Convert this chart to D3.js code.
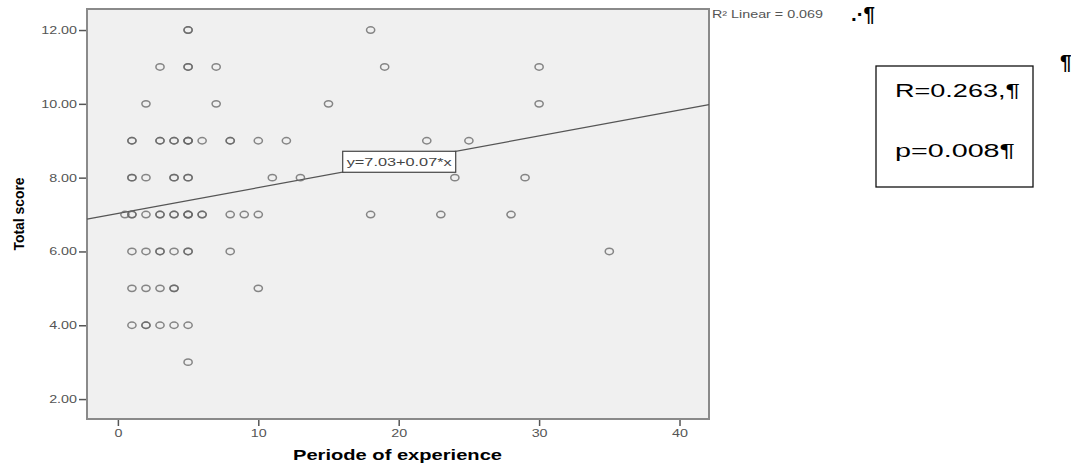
<!DOCTYPE html>
<html>
<head>
<meta charset="utf-8">
<script src="https://cdn.jsdelivr.net/npm/d3@7"></script>
<style>
  body { margin: 0; background: #fff; }
  svg text { font-family: "Liberation Sans", Arial, sans-serif; }
</style>
</head>
<body>
<div id="chart"></div>
<script>
// Period of experience (x) for each total score level (y).
// Repeated values = overlapping cases (drawn darker).
const score12 = [5, 5, 18];
const score11 = [3, 5, 5, 7, 19, 30];
const score10 = [2, 7, 15, 30];
const score9 = [1, 1, 3, 3, 4, 4, 5, 5, 5, 6, 8, 8, 10, 12, 22, 25];
const score8 = [1, 1, 2, 4, 4, 5, 5, 11, 13, 24, 29];
const score7 = [0.5, 1, 1, 2, 3, 3, 4, 4, 5, 5, 5, 6, 6, 8, 9, 10, 18, 23, 28];
const score6 = [1, 2, 3, 3, 4, 5, 5, 8, 35];
const score5 = [1, 2, 3, 4, 4, 10];
const score4 = [1, 2, 2, 3, 4, 5];
const score3 = [5];

const scoreLevels = [12, 11, 10, 9, 8, 7, 6, 5, 4, 3];
const byLevel = [score12, score11, score10, score9, score8, score7, score6, score5, score4, score3];

const xTicks = [0, 10, 20, 30, 40];
const yTicks = [2, 4, 6, 8, 10, 12];

// fit line from the chart
const intercept = 7.03;
const slope = 0.07;
const fitLabel = "y=7.03+0.07*x";
const r2Label = "R\u00B2 Linear = 0.069";
const rText = "R=0.263,\u00B6";
const pText = "p=0.008\u00B6";

function init() {
    const w = 1071, h = 464;
    const left = 87, right = 709, top = 9, bottom = 419;

    const points = [];
    byLevel.forEach((xs, i) => xs.forEach(x => points.push({ x: x, y: scoreLevels[i] })));

    const svg = d3.select("#chart").append("svg")
        .attr("width", w)
        .attr("height", h);

    const xScale = d3.scaleLinear().domain([-2.2, 42.1]).range([left, right]);
    const yScale = d3.scaleLinear().domain([1.46, 12.57]).range([bottom, top]);

    // stretch text horizontally like the (widened) original picture
    function stretch(sel, k) {
        sel.each(function () {
            const n = this.getComputedTextLength();
            d3.select(this).attr("textLength", n * k).attr("lengthAdjust", "spacingAndGlyphs");
        });
    }

    // plot area
    svg.append("rect")
        .attr("x", left).attr("y", top)
        .attr("width", right - left).attr("height", bottom - top)
        .attr("fill", "#f0f0f0")
        .attr("stroke", "#8a8a8a")
        .attr("stroke-width", 2);

    const yAxis = svg.append("g")
        .attr("transform", `translate(${left - 1},0)`)
        .call(d3.axisLeft(yScale).tickValues(yTicks).tickFormat(d3.format(".2f")).tickSize(7).tickPadding(2));
    yAxis.select(".domain").remove();
    yAxis.selectAll("line").attr("stroke", "#555").attr("stroke-width", 1.5);
    yAxis.selectAll("text").attr("font-size", 11).attr("fill", "#555")
        .attr("font-family", "Liberation Sans, Arial, sans-serif").call(stretch, 1.3);

    const xAxis = svg.append("g")
        .attr("transform", `translate(0,${bottom + 1})`)
        .call(d3.axisBottom(xScale).tickValues(xTicks).tickSize(6).tickPadding(3));
    xAxis.select(".domain").remove();
    xAxis.selectAll("line").attr("stroke", "#555").attr("stroke-width", 1.5);
    xAxis.selectAll("text").attr("font-size", 11).attr("fill", "#555")
        .attr("font-family", "Liberation Sans, Arial, sans-serif").call(stretch, 1.3);

    // fit line
    const xd = xScale.domain();
    svg.append("line")
        .attr("x1", xScale(xd[0])).attr("y1", yScale(intercept + slope * xd[0]))
        .attr("x2", xScale(xd[1])).attr("y2", yScale(intercept + slope * xd[1]))
        .attr("stroke", "#555")
        .attr("stroke-width", 1.3);

    // points (slightly wide, as in the stretched original)
    svg.selectAll("ellipse.pt")
        .data(points)
        .enter()
        .append("ellipse")
        .attr("class", "pt")
        .attr("cx", d => xScale(d.x))
        .attr("cy", d => yScale(d.y))
        .attr("rx", 4.1)
        .attr("ry", 3.2)
        .attr("fill", "none")
        .attr("stroke", "#666")
        .attr("stroke-opacity", 0.78)
        .attr("stroke-width", 1.5);

    // fit label box on the line at x=20
    const lx = xScale(20), ly = yScale(intercept + slope * 20);
    svg.append("rect")
        .attr("x", lx - 56).attr("y", ly - 10.5)
        .attr("width", 113).attr("height", 21)
        .attr("fill", "#fff")
        .attr("stroke", "#444")
        .attr("stroke-width", 1.2);
    svg.append("text")
        .attr("x", lx - 52).attr("y", ly + 4)
        .attr("font-size", 11.5)
        .attr("fill", "#444")
        .attr("textLength", 105)
        .attr("lengthAdjust", "spacingAndGlyphs")
        .text(fitLabel);

    // axis titles
    svg.append("text")
        .attr("transform", `translate(24,${(top + bottom) / 2}) rotate(-90)`)
        .attr("text-anchor", "middle")
        .attr("font-size", 14)
        .attr("font-weight", "bold")
        .attr("textLength", 73)
        .attr("lengthAdjust", "spacingAndGlyphs")
        .text("Total score");

    svg.append("text")
        .attr("x", 293).attr("y", 460)
        .attr("font-size", 15.5)
        .attr("font-weight", "bold")
        .attr("textLength", 209)
        .attr("lengthAdjust", "spacingAndGlyphs")
        .text("Periode of experience");

    // R² note
    svg.append("text")
        .attr("x", 712).attr("y", 18)
        .attr("font-size", 10)
        .attr("fill", "#555")
        .attr("textLength", 111)
        .attr("lengthAdjust", "spacingAndGlyphs")
        .text(r2Label);
    svg.append("text")
        .attr("x", 851).attr("y", 21)
        .attr("font-size", 20)
        .attr("font-weight", "bold")
        .attr("textLength", 24)
        .attr("lengthAdjust", "spacingAndGlyphs")
        .text(".\u00B7\u00B6");

    // R / p box
    svg.append("rect")
        .attr("x", 876).attr("y", 66)
        .attr("width", 157).attr("height", 121)
        .attr("fill", "#fff")
        .attr("stroke", "#111")
        .attr("stroke-width", 1.3);
    svg.append("text")
        .attr("x", 895).attr("y", 97)
        .attr("font-size", 19)
        .attr("textLength", 125)
        .attr("lengthAdjust", "spacingAndGlyphs")
        .text(rText);
    svg.append("text")
        .attr("x", 895).attr("y", 157)
        .attr("font-size", 19)
        .attr("textLength", 120)
        .attr("lengthAdjust", "spacingAndGlyphs")
        .text(pText);

    svg.append("text")
        .attr("x", 1060).attr("y", 69)
        .attr("font-size", 21)
        .attr("font-weight", "bold")
        .text("\u00B6");
}

window.onload = init;
</script>
</body>
</html>
